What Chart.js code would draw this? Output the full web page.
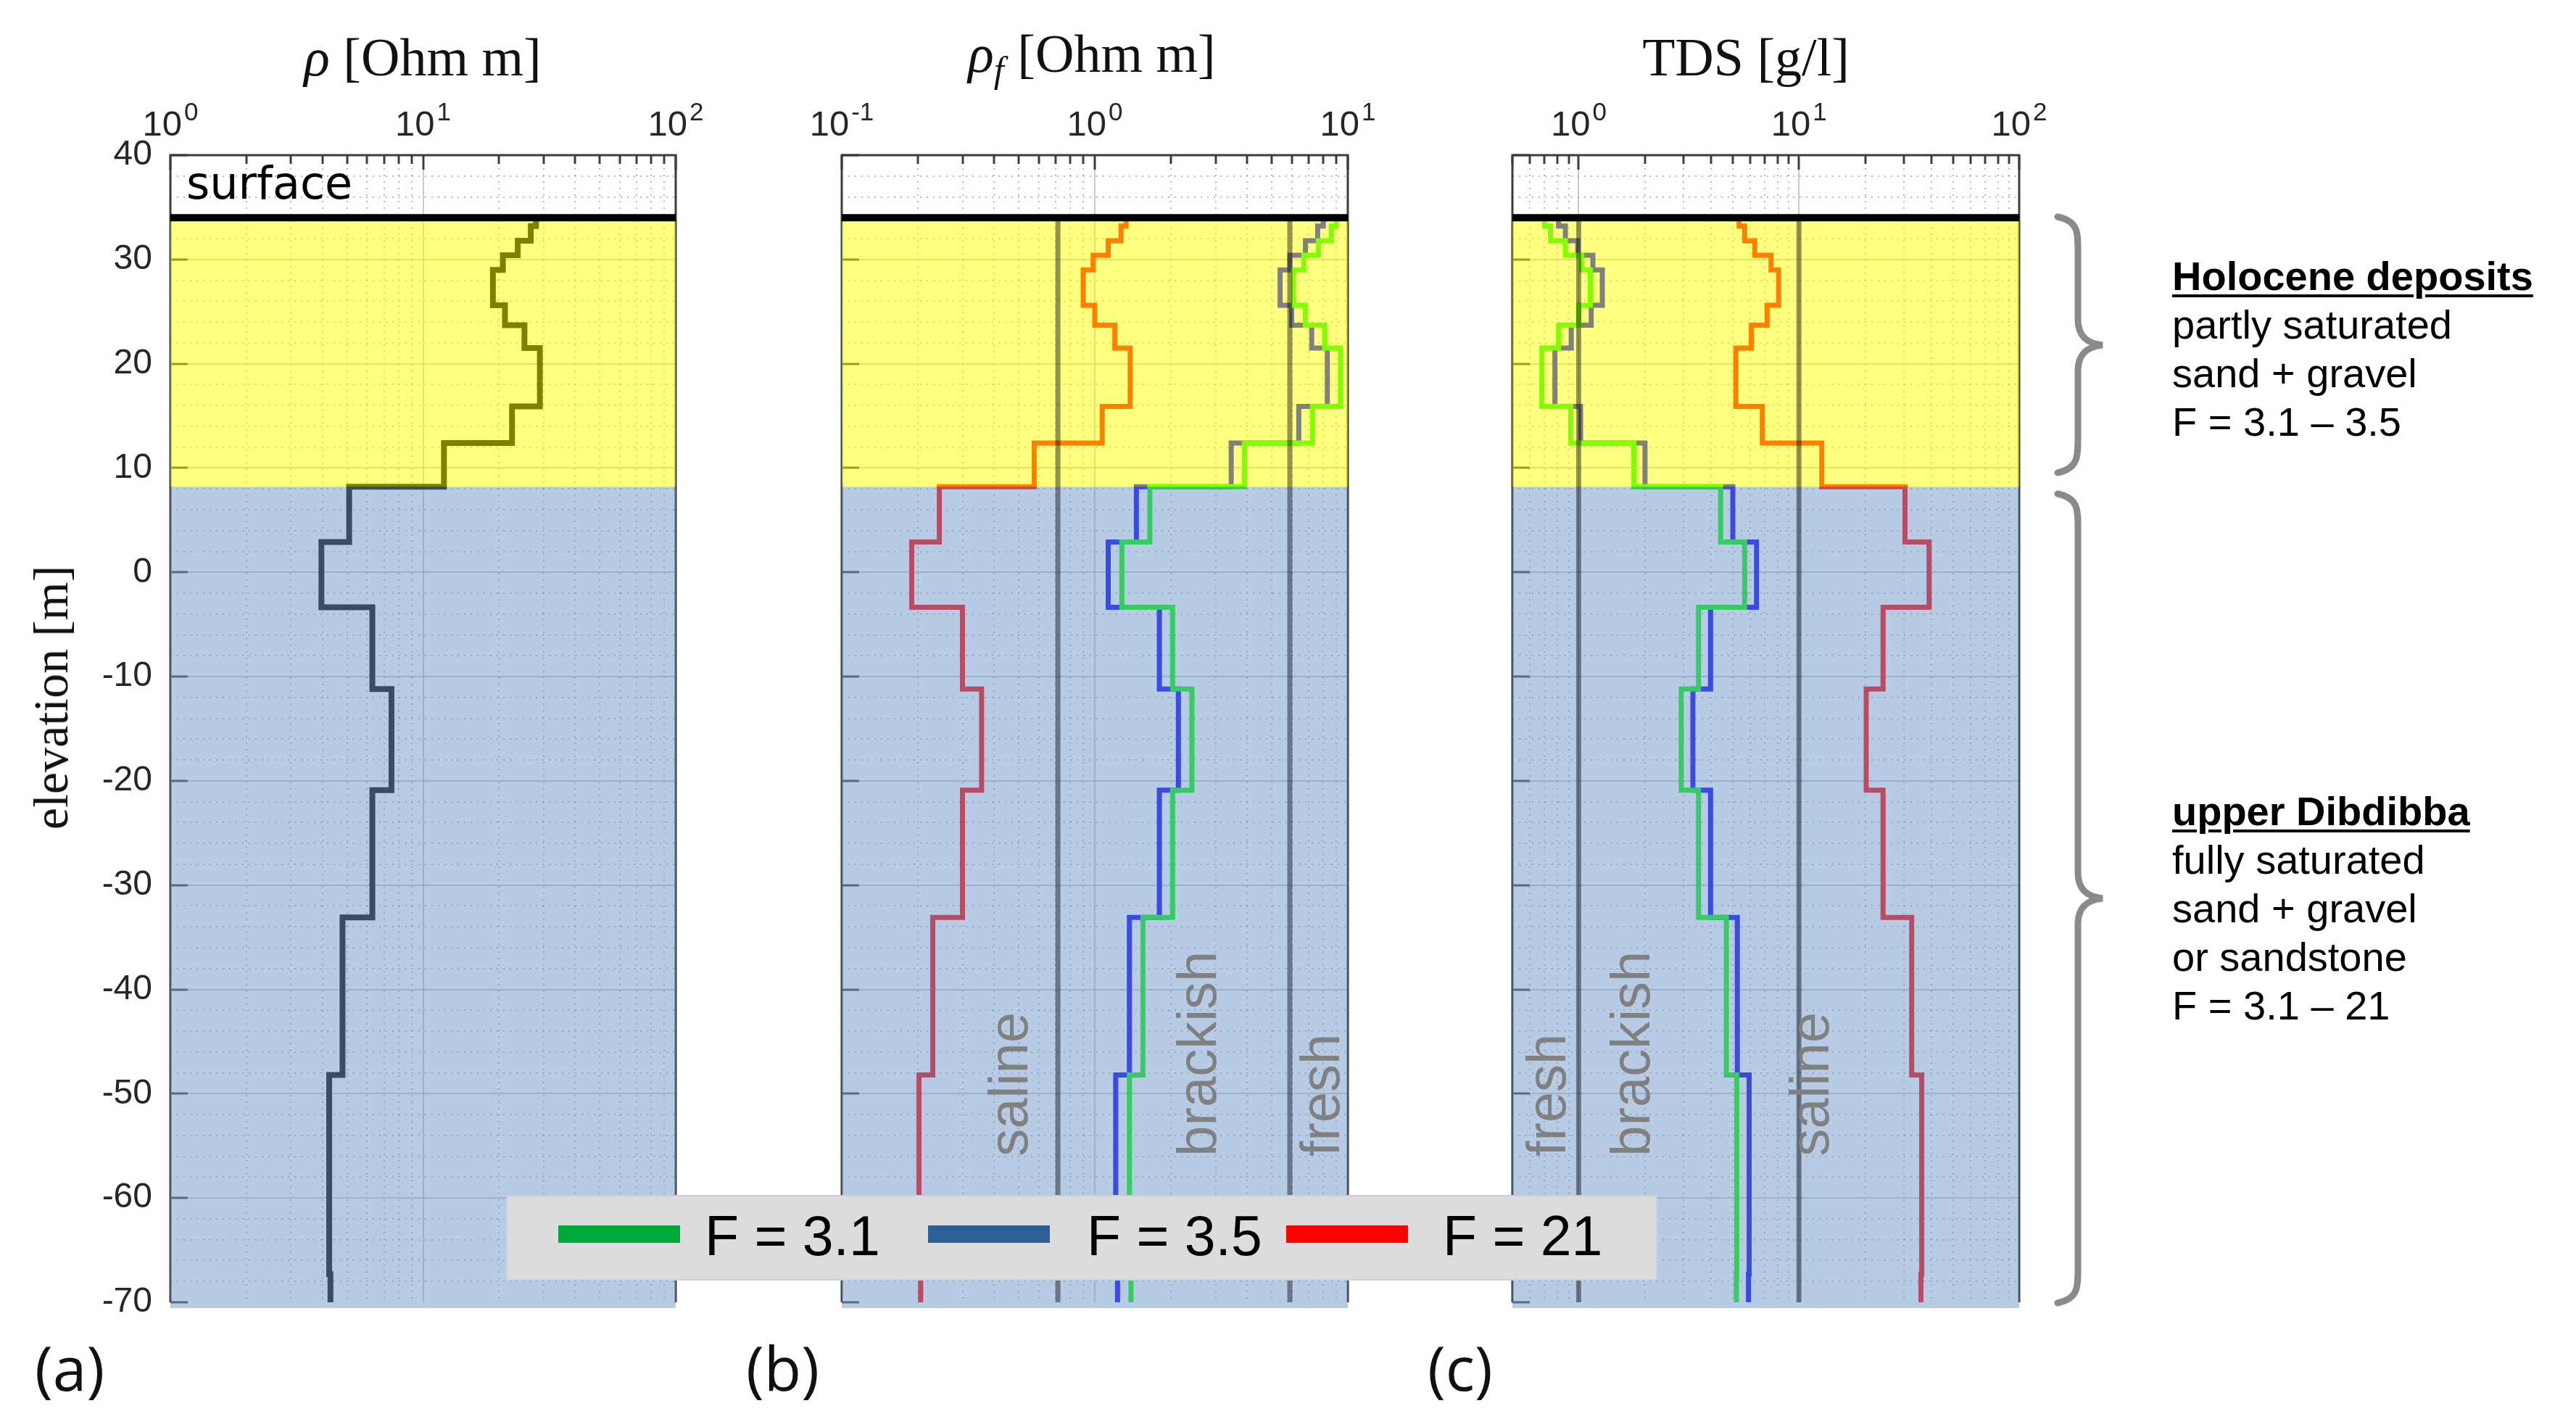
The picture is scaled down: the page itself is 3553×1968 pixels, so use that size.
<!DOCTYPE html>
<html>
<head>
<meta charset="utf-8">
<script src="https://cdn.jsdelivr.net/npm/chart.js@4.4.1/dist/chart.umd.min.js"></script>
<style>
  html, body { margin: 0; padding: 0; background: #fff; }
  #fig { position: relative; width: 3553px; height: 1968px; overflow: hidden; font-family: "Liberation Sans", Arial, sans-serif; }
  #fig canvas { position: absolute; top: 0; }
  .lbl { position: absolute; white-space: nowrap; line-height: 1; transform: translate(-50%, -50%); color: #111; }
  .title { font-family: "Liberation Serif", "DejaVu Serif", serif; font-size: 74px; }
  .title sub { font-size: 0.68em; vertical-align: -0.28em; }
  .ylab { font-family: "Liberation Serif", "DejaVu Serif", serif; font-size: 68px; transform: translate(-50%, -50%) rotate(-90deg); }
  .plab { font-family: "Open Sans", "Liberation Sans", sans-serif; font-size: 84px; transform: translateY(-50%); }
  #legend { position: absolute; left: 698px; top: 1648px; width: 1588px; height: 118px; background: #dcdcdc; border: 2px solid #c9d1dd; box-sizing: border-box; }
  #legend .sw { position: absolute; top: 40px; height: 24px; width: 168px; }
  #legend .lt { position: absolute; top: 54px; font-size: 77px; line-height: 1; transform: translateY(-50%); color: #000; }
  .note { position: absolute; left: 2996px; font-size: 56px; line-height: 67px; color: #000; white-space: nowrap; }
  .note b { text-decoration: underline; text-decoration-thickness: 4px; text-underline-offset: 6px; }
</style>
</head>
<body>
<div id="fig">
  <canvas id="panelA" width="992" height="1968" style="left:0px;width:992px;height:1968px"></canvas>
  <canvas id="panelB" width="838" height="1968" style="left:1081px;width:838px;height:1968px"></canvas>
  <canvas id="panelC" width="839" height="1968" style="left:2006px;width:839px;height:1968px"></canvas>

  <div class="lbl title" style="left:583px;top:79px"><i>ρ</i> [Ohm m]</div>
  <div class="lbl title" style="left:1506px;top:79px"><i>ρ<sub>f</sub></i> [Ohm m]</div>
  <div class="lbl title" style="left:2408px;top:79px">TDS [g/l]</div>
  <div class="lbl ylab" style="left:70px;top:962px">elevation [m]</div>

  <div class="lbl plab" style="left:48px;top:1886px">(a)</div>
  <div class="lbl plab" style="left:1029px;top:1886px">(b)</div>
  <div class="lbl plab" style="left:1969px;top:1886px">(c)</div>

  <div id="legend">
    <div class="sw" style="left:70px;background:#00a83c"></div>
    <span class="lt" style="left:272px">F = 3.1</span>
    <div class="sw" style="left:580px;background:#2c5f96"></div>
    <span class="lt" style="left:799px">F = 3.5</span>
    <div class="sw" style="left:1074px;background:#ff0000"></div>
    <span class="lt" style="left:1290px">F = 21</span>
  </div>

  <svg width="3553" height="1968" style="position:absolute;left:0;top:0;pointer-events:none">
    <g fill="none" stroke="#8a8a8a" stroke-width="9" stroke-linecap="round">
      <path d="M2838 299 C2866 305 2866 320 2866 345 L2866 440 C2866 465 2880 474 2900 476 C2880 478 2866 487 2866 512 L2866 605 C2866 630 2866 646 2838 652"/>
      <path d="M2838 681 C2866 687 2866 702 2866 727 L2866 1203 C2866 1228 2880 1237 2900 1239 C2880 1241 2866 1250 2866 1275 L2866 1751 C2866 1776 2866 1791 2838 1797"/>
    </g>
  </svg>

  <div class="note" style="top:347px"><b>Holocene deposits</b><br>partly saturated<br>sand + gravel<br>F = 3.1 – 3.5</div>
  <div class="note" style="top:1085px"><b>upper Dibdibba</b><br>fully saturated<br>sand + gravel<br>or sandstone<br>F = 3.1 – 21</div>
</div>

<script>
// Layer boundaries of the 1D model, elevation in m, top to bottom
const layerBounds = [34, 33.2, 31.8, 30.4, 29.0, 25.6, 23.7, 21.5, 15.9, 12.4, 8.2, 2.9, -3.35, -11.2, -20.9, -33.1, -48.2, -67.3, -70];
const surfaceElev = 34;
const unitBoundary = 8.2;

// (a) bulk resistivity, Ohm m, one value per layer
const rhoBulk = [28, 26.7, 23.7, 20.7, 18.9, 21.1, 25.2, 29, 22.5, 12.1, 5.1, 3.96, 6.3, 7.5, 6.3, 4.8, 4.25, 4.3];

// (b) fluid resistivity, Ohm m
const rhoF31 = [9.0, 8.6, 7.65, 6.7, 6.1, 6.8, 8.1, 9.35, 7.25, 3.9, 1.65, 1.28, 2.03, 2.42, 2.03, 1.55, 1.37, 1.39];
const rhoF35 = [8.0, 7.6, 6.8, 5.9, 5.4, 6.0, 7.2, 8.3, 6.4, 3.46, 1.46, 1.13, 1.8, 2.14, 1.8, 1.37, 1.21, 1.23];
const rhoF21 = [1.33, 1.27, 1.13, 0.985, 0.9, 1.0, 1.2, 1.38, 1.07, 0.576, 0.243, 0.189, 0.30, 0.357, 0.30, 0.229, 0.202, 0.205];
const rhoFLimits = [0.715, 5.9];

// (c) total dissolved solids, g/l
const tdsF31 = [0.70, 0.745, 0.87, 1.03, 1.13, 1.0, 0.81, 0.68, 0.92, 1.78, 4.41, 5.67, 3.50, 2.92, 3.50, 4.68, 5.22, 5.2];
const tdsF35 = [0.81, 0.87, 0.99, 1.16, 1.28, 1.14, 0.925, 0.78, 1.02, 2.0, 5.01, 6.42, 3.97, 3.30, 3.97, 5.25, 5.94, 5.9];
const tdsF21 = [5.35, 5.67, 6.3, 7.47, 8.08, 7.17, 6.08, 5.17, 6.82, 12.7, 30.3, 39.0, 24.1, 20.2, 24.1, 32.5, 36.1, 35.8];
const tdsLimits = [1, 10];

// water class labels and where they sit (x value of the text baseline)
const classesB = [['saline', 0.54], ['brackish', 3.0], ['fresh', 9.25]];
const classesC = [['fresh', 0.87], ['brackish', 2.09], ['saline', 13.6]];
const classLabelElev = -56;

Chart.defaults.font.family = '"Liberation Sans", Arial, sans-serif';

function profile(values) {
    const pts = [];
    values.forEach((v, i) => {
        pts.push({ x: v, y: layerBounds[i] });
        pts.push({ x: v, y: layerBounds[i + 1] });
    });
    return pts;
}

function logValues(min, max) {
    const out = [];
    for (let k = Math.floor(Math.log10(min)); k <= Math.ceil(Math.log10(max)); k++) {
        for (let m = 1; m <= 9; m++) {
            const v = m * Math.pow(10, k);
            if (v >= min * 0.999999 && v <= max * 1.000001) out.push({ v, major: m === 1 });
        }
    }
    return out;
}

function hline(ctx, x0, x1, y) { ctx.beginPath(); ctx.moveTo(x0, y); ctx.lineTo(x1, y); ctx.stroke(); }
function vline(ctx, x, y0, y1) { ctx.beginPath(); ctx.moveTo(x, y0); ctx.lineTo(x, y1); ctx.stroke(); }

function decorPlugin(p) {
    return {
        id: 'decor',
        beforeDatasetsDraw(chart) {
            const { ctx, chartArea: a, scales: { x, y } } = chart;
            const ticks = logValues(p.xMin, p.xMax);
            ctx.save();
            // dotted minor grid
            ctx.lineWidth = 2;
            ctx.strokeStyle = 'rgba(130,130,130,0.55)';
            ctx.setLineDash([2, 7]);
            ticks.filter(t => !t.major).forEach(t => vline(ctx, Math.round(x.getPixelForValue(t.v)), a.top, a.bottom));
            for (let e = -68; e < 40; e += 2) {
                if (e % 10 === 0) continue;
                hline(ctx, a.left, a.right, Math.round(y.getPixelForValue(e)));
            }
            // solid major grid
            ctx.setLineDash([]);
            ctx.strokeStyle = 'rgba(150,150,150,0.5)';
            ticks.filter(t => t.major).forEach(t => vline(ctx, Math.round(x.getPixelForValue(t.v)), a.top, a.bottom));
            for (let e = -60; e < 40; e += 10) hline(ctx, a.left, a.right, Math.round(y.getPixelForValue(e)));
            // axes box
            ctx.strokeStyle = '#3c3c3c';
            ctx.lineWidth = 3;
            ctx.beginPath();
            ctx.moveTo(a.left, a.bottom); ctx.lineTo(a.left, a.top); ctx.lineTo(a.right, a.top); ctx.lineTo(a.right, a.bottom);
            ctx.stroke();
            // inward ticks
            ticks.forEach(t => {
                const px = Math.round(x.getPixelForValue(t.v));
                vline(ctx, px, a.top, a.top + (t.major ? 20 : 12));
            });
            for (let e = -70; e <= 40; e += 10) {
                const py = Math.round(y.getPixelForValue(e));
                hline(ctx, a.left, a.left + 24, py);
            }
            ctx.restore();
        },
        afterDatasetsDraw(chart) {
            const { ctx, chartArea: a, scales: { x, y } } = chart;
            const ySurf = y.getPixelForValue(surfaceElev);
            const yUnit = y.getPixelForValue(unitBoundary);
            ctx.save();
            // translucent geology bands over the profiles
            ctx.fillStyle = 'rgba(255,255,0,0.5)';
            ctx.fillRect(a.left, ySurf, a.width, yUnit - ySurf);
            ctx.fillStyle = 'rgba(112,152,202,0.5)';
            ctx.fillRect(a.left, yUnit, a.width, a.bottom + 8 - yUnit);
            // class limits
            ctx.strokeStyle = 'rgba(0,0,0,0.42)';
            ctx.lineWidth = 7;
            (p.limits || []).forEach(v => vline(ctx, x.getPixelForValue(v), ySurf, a.bottom));
            // surface
            ctx.strokeStyle = '#000';
            ctx.lineWidth = 10;
            hline(ctx, a.left, a.right, ySurf);
            // class labels
            ctx.fillStyle = '#808080';
            ctx.font = '76px "Liberation Sans", Arial, sans-serif';
            ctx.textAlign = 'left';
            ctx.textBaseline = 'alphabetic';
            (p.classes || []).forEach(([txt, v]) => {
                ctx.save();
                ctx.translate(x.getPixelForValue(v), y.getPixelForValue(classLabelElev));
                ctx.rotate(-Math.PI / 2);
                ctx.fillText(txt, 0, 0);
                ctx.restore();
            });
            if (p.surfaceText) {
                ctx.fillStyle = '#000';
                ctx.font = '62px "DejaVu Sans", sans-serif';
                ctx.fillText('surface', a.left + 22, 274);
            }
            ctx.restore();
        },
        afterDraw(chart) {
            const { ctx, chartArea: a, scales: { x } } = chart;
            ctx.save();
            ctx.fillStyle = '#262626';
            ctx.textAlign = 'left';
            ctx.textBaseline = 'alphabetic';
            logValues(p.xMin, p.xMax).filter(t => t.major).forEach(t => {
                const exp = String(Math.round(Math.log10(t.v)));
                ctx.font = '49px "Liberation Sans", Arial, sans-serif';
                const wM = ctx.measureText('10').width;
                ctx.font = '35px "Liberation Sans", Arial, sans-serif';
                const wS = ctx.measureText(exp).width;
                const x0 = x.getPixelForValue(t.v) - (wM + wS + 3) / 2;
                ctx.font = '49px "Liberation Sans", Arial, sans-serif';
                ctx.fillText('10', x0, a.top - 27);
                ctx.font = '35px "Liberation Sans", Arial, sans-serif';
                ctx.fillText(exp, x0 + wM + 3, a.top - 48);
            });
            ctx.restore();
        }
    };
}

function makePanel(id, p) {
    const lineSet = (data, color, width) => ({
        data: profile(data),
        showLine: true,
        borderColor: color,
        borderWidth: width,
        pointRadius: 0,
        borderJoinStyle: 'miter',
        borderCapStyle: 'butt',
        tension: 0
    });
    return new Chart(document.getElementById(id), {
        type: 'scatter',
        data: { datasets: p.series.map(s => lineSet(s.data, s.color, s.width)) },
        options: {
            responsive: false,
            animation: false,
            devicePixelRatio: 1,
            layout: { padding: { left: 0, top: 0, right: p.padRight, bottom: 172 } },
            plugins: { legend: { display: false }, tooltip: { enabled: false } },
            scales: {
                x: {
                    type: 'logarithmic',
                    position: 'top',
                    min: p.xMin,
                    max: p.xMax,
                    grid: { display: false, drawTicks: false },
                    border: { display: false },
                    ticks: { display: false },
                    afterFit: s => { s.height = 214; }
                },
                y: {
                    type: 'linear',
                    min: -70,
                    max: 40,
                    grid: { display: false, drawTicks: false },
                    border: { display: false },
                    ticks: {
                        display: p.yLabels,
                        stepSize: 10,
                        padding: 25,
                        color: '#262626',
                        font: { size: 48 }
                    },
                    afterFit: s => { s.width = p.yWidth; }
                }
            }
        },
        plugins: [decorPlugin(p)]
    });
}

makePanel('panelA', {
    xMin: 1, xMax: 100, yWidth: 235, padRight: 60, yLabels: true, surfaceText: true,
    series: [{ data: rhoBulk, color: '#000000', width: 8 }]
});

// drawing order as in the figure: last series ends up on top
makePanel('panelB', {
    xMin: 0.1, xMax: 10, yWidth: 80, padRight: 60, yLabels: false,
    limits: rhoFLimits, classes: classesB,
    series: [
        { data: rhoF31, color: '#00ff00', width: 7 },
        { data: rhoF35, color: '#0000ff', width: 7 },
        { data: rhoF21, color: '#ff0000', width: 7 }
    ]
});

makePanel('panelC', {
    xMin: 0.5, xMax: 100, yWidth: 80, padRight: 60, yLabels: false,
    limits: tdsLimits, classes: classesC,
    series: [
        { data: tdsF31, color: '#00ff00', width: 7 },
        { data: tdsF35, color: '#0000ff', width: 7 },
        { data: tdsF21, color: '#ff0000', width: 7 }
    ]
});
</script>
</body>
</html>
